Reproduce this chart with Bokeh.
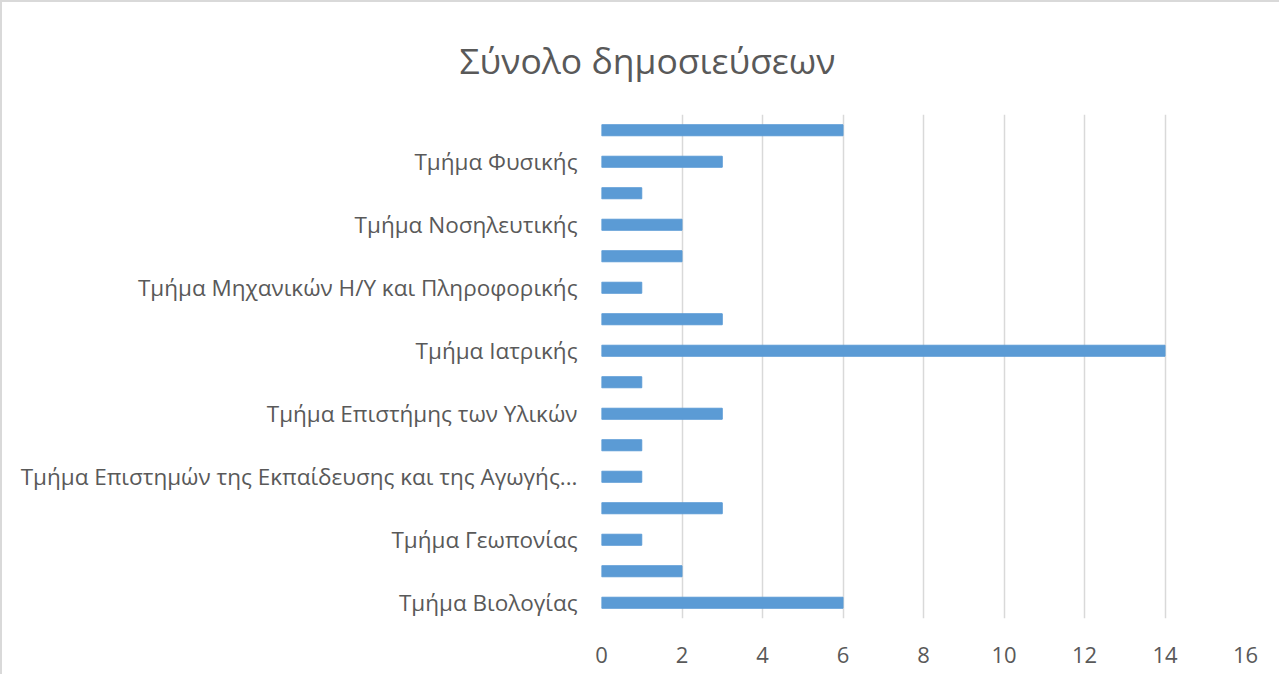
from bokeh.plotting import figure
from bokeh.models import FixedTicker, Title
from bokeh.embed import file_html
from bokeh.resources import INLINE

# Categories bottom -> top (every second label is hidden in the original chart)
departments = [
    "Τμήμα Βιολογίας",
    "Τμήμα Βιολογικών Εφαρμογών και Τεχνολογιών",
    "Τμήμα Γεωπονίας",
    "Τμήμα Δημοτικής Εκπαίδευσης",
    "Τμήμα Επιστημών της Εκπαίδευσης και της Αγωγής...",
    "Τμήμα Επιστήμης Τροφίμων",
    "Τμήμα Επιστήμης των Υλικών",
    "Τμήμα Ιστορίας και Αρχαιολογίας",
    "Τμήμα Ιατρικής",
    "Τμήμα Λογοθεραπείας",
    "Τμήμα Μηχανικών Η/Υ και Πληροφορικής",
    "Τμήμα Μουσικών Σπουδών",
    "Τμήμα Νοσηλευτικής",
    "Τμήμα Οικονομικών Επιστημών",
    "Τμήμα Φυσικής",
    "Τμήμα Χημείας",
]
publications = [6, 2, 1, 3, 1, 1, 3, 1, 14, 3, 1, 2, 2, 1, 3, 6]
shown_label = [True, False] * 8
x_ticks = [0, 2, 4, 6, 8, 10, 12, 14, 16]
title_text = "Σύνολο δημοσιεύσεων"

positions = list(range(1, len(departments) + 1))

FONT = "Open Sans"
GREY = "#595959"

p = figure(
    width=1279, height=674,
    x_range=(0, 16), y_range=(0.5, len(departments) + 0.5),
    output_backend="svg", toolbar_location=None,
    min_border_left=599, min_border_right=36,
    min_border_top=112, min_border_bottom=58,
)
p.styles = {"border-left": "2px solid #D9D9D9", "border-top": "2px solid #D9D9D9"}

p.hbar(y=positions, right=publications, left=0, height=0.35,
       color="#5B9BD5", line_color="#5B9BD5")

p.outline_line_color = None
p.background_fill_color = "white"
p.border_fill_color = "white"

# x axis
p.xaxis.ticker = FixedTicker(ticks=x_ticks)
p.xaxis.axis_line_color = None
p.xaxis.major_tick_line_color = None
p.xaxis.minor_tick_line_color = None
p.xaxis.major_label_text_font = FONT
p.xaxis.major_label_text_font_size = "22px"
p.xaxis.major_label_text_color = GREY
p.xaxis.major_label_standoff = 22

# y axis
p.yaxis.ticker = FixedTicker(ticks=positions)
p.yaxis.major_label_overrides = {
    pos: (name if show else "") for pos, name, show in zip(positions, departments, shown_label)
}
p.yaxis.axis_line_color = None
p.yaxis.major_tick_line_color = None
p.yaxis.minor_tick_line_color = None
p.yaxis.major_label_text_font = FONT
p.yaxis.major_label_text_font_size = "22.5px"
p.yaxis.major_label_text_color = GREY
p.yaxis.major_label_standoff = 18

p.xgrid.ticker = FixedTicker(ticks=x_ticks)
p.xgrid.grid_line_color = "#D9D9D9"
p.xgrid.grid_line_width = 1.5
p.ygrid.grid_line_color = None

title = Title(text=title_text, text_font=FONT, text_font_size="35.5px",
              text_color=GREY, text_font_style="normal",
              align="left", offset=-142, standoff=61)
p.add_layout(title, "above")

open("out.html", "w").write(file_html(p, INLINE))
